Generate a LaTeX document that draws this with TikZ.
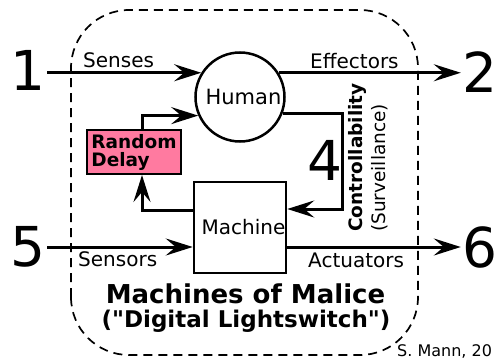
\documentclass[tikz,border=0pt]{standalone}
\usepackage{fontspec}
\setmainfont{DejaVu Sans}[Ligatures=TeXOff]
\usetikzlibrary{arrows.meta}
\definecolor{delaypink}{RGB}{255,122,160}

\begin{document}
\begin{tikzpicture}[x=1pt, y=1pt,
		wire/.style={line width=3pt, -{Stealth[length=27pt, width=17pt, inset=10pt]}},
		lbl/.style={font=\fontsize{20}{24}\selectfont, inner sep=0pt},
		big/.style={font=\fontsize{55}{60}\selectfont, inner sep=1.5pt}]
		%%%%% START %%%%%
		\useasboundingbox (0, 0) rectangle (499, 360);
		
		\draw[line width=1.7pt, dash pattern=on 9pt off 6pt, rounded corners=58pt] (71, 5) rectangle (418, 350);
		
		\node[draw, circle, line width=2.5pt, minimum size=89pt, inner sep=0pt] (human) at (240, 263) {};
		\node[font=\fontsize{21}{24}\selectfont] (humantext) at (243.5, 263) {Human};
		\node[draw, line width=2.5pt, minimum width=92pt, minimum height=91pt] (machine) at (240, 132.5) {};
		\node[lbl] (machinetext) at (243.5, 132.5) {Machine};
		\node[draw, fill=delaypink, line width=2pt, minimum width=94pt, minimum height=44pt, align=left, inner sep=0pt, font=\fontsize{18.5}{18}\selectfont\bfseries] (delay) at (134, 208) {Random\\Delay};
		
		\node[big] (one) at (28, 290) {1};
		\node[big] (two) at (480, 288) {2};
		\node[big] (four) at (325, 200) {4};
		\node[big] (five) at (28, 113) {5};
		\node[big] (six) at (480, 113) {6};
		
		\draw[wire] (one.east |- human.148) -- (human.148);
		\draw[wire] (human.32) -- (human.32 -| two.west);
		\draw[wire] ([xshift=8pt]delay.north) |- (human.204);
		
		\coordinate (loop) at (342, 151);
		\draw[wire] (human.-21) -| (loop) -- (loop -| machine.east);
		\draw[wire] ([yshift=17.5pt]machine.west) -| ([xshift=8pt]delay.south);
		
		\draw[wire] (five.east) -- (five.east -| machine.west);
		\draw[wire] (machine.east |- six.west) -- (six.west);
		
		\node[lbl, anchor=base west] (senses) at (83, 293) {Senses};
		\node[lbl, anchor=base west] (effectors) at (310, 292) {Effectors};
		\node[lbl, anchor=base west] (sensors) at (78, 94) {Sensors};
		\node[lbl, anchor=base west] (actuators) at (308, 93) {Actuators};
		
		\node[rotate=90, anchor=north west, align=left, inner sep=0pt, font=\fontsize{18.5}{23}\selectfont] (ctrl) at (348, 128) {\textbf{Controllability}\\(Surveillance)};
		
		\node[font=\fontsize{26}{30}\selectfont\bfseries, anchor=base] (title) at (245.5, 57) {Machines of Malice};
		\node[font=\fontsize{23}{28}\selectfont\bfseries, anchor=base] (subtitle) at (246, 33) {("Digital Lightswitch")};
		\node[font=\fontsize{16}{19}\selectfont, anchor=base west, inner sep=0pt] (credit) at (397, 4) {S. Mann, 20};
		
		%%%%% END %%%%%
\end{tikzpicture}
\end{document}
